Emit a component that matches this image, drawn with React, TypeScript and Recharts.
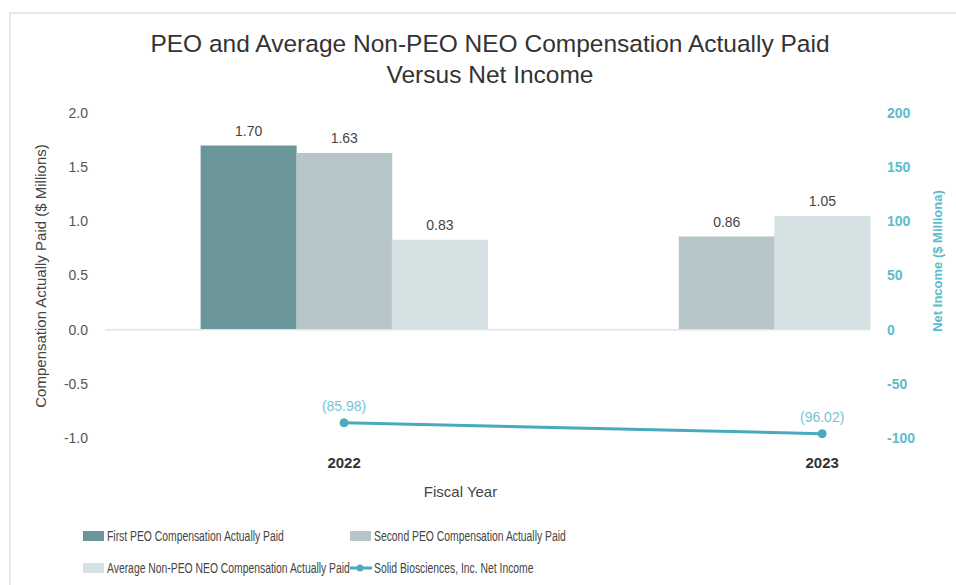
import React from 'react';
import { ComposedChart, Bar, Line, XAxis, YAxis, ReferenceLine, LabelList, Label } from 'recharts';

const years = ['2022', '2023'];
const firstPeoCap = [1.7, null];
const secondPeoCap = [1.63, 0.86];
const avgNonPeoCap = [0.83, 1.05];
const netIncome = [-85.98, -96.02];
const leftTicks = [-1, -0.5, 0, 0.5, 1, 1.5, 2];
const rightTicks = [-100, -50, 0, 50, 100, 150, 200];

const COLORS = {
  first: '#6a9599',
  second: '#b5c5c8',
  avg: '#d5e1e3',
  line: '#48aabc',
  lineLabel: '#78c3d1',
  rightAxis: '#5cbccc',
};

// slot layout along the x axis: each slot holds one bar (or nothing)
const slotPlan: { year?: number; series?: 'first' | 'second' | 'avg'; tick?: boolean }[] = [
  {},
  { year: 0, series: 'first' },
  { year: 0, series: 'second', tick: true },
  { year: 0, series: 'avg' },
  {},
  { year: 1, series: 'first' },
  { year: 1, series: 'second' },
  { year: 1, series: 'avg', tick: true },
];

const rows = slotPlan.map((s, k) => {
  const y = s.year ?? -1;
  return {
    key: 's' + k,
    label: s.tick ? years[y] : '',
    first: s.series === 'first' ? firstPeoCap[y] : null,
    second: s.series === 'second' ? secondPeoCap[y] : null,
    avg: s.series === 'avg' ? avgNonPeoCap[y] : null,
    net: s.tick ? netIncome[y] : null,
  };
});

const labelByKey: Record<string, string> = {};
rows.forEach((r) => (labelByKey[r.key] = r.label));

const FONT = '"Liberation Sans", Arial, sans-serif';

const fmtParen = (v: any) => {
  const n = Number(v);
  return n < 0 ? `(${Math.abs(n).toFixed(2)})` : n.toFixed(2);
};

const legendItems = [
  { name: 'First PEO Compensation Actually Paid', color: COLORS.first, type: 'rect', col: 0, row: 0 },
  { name: 'Second PEO Compensation Actually Paid', color: COLORS.second, type: 'rect', col: 1, row: 0 },
  { name: 'Average Non-PEO NEO Compensation Actually Paid', color: COLORS.avg, type: 'rect', col: 0, row: 1 },
  { name: 'Solid Biosciences, Inc. Net Income', color: COLORS.line, type: 'line', col: 1, row: 1 },
];

export default function App() {
  return (
    <div style={{ position: 'absolute', left: 0, top: 0, width: 956, height: 585, overflow: 'hidden', background: '#fff', fontFamily: FONT }}>
      <div style={{ position: 'absolute', left: 9, top: 12, width: 1000, height: 1000, border: '2px solid #e3eaec' }} />
      <div style={{ position: 'absolute', left: 0, top: 28, width: 980, textAlign: 'center', fontSize: 24.5, lineHeight: '31px', color: '#333' }}>
        PEO and Average Non-PEO NEO Compensation Actually Paid
        <br />
        Versus Net Income
      </div>
      <div style={{ position: 'absolute', left: 0, top: 0 }}>
        <ComposedChart width={956} height={585} data={rows} barCategoryGap={0} margin={{ top: 113, right: 0, bottom: 87, left: 0 }}>
          <XAxis
            dataKey="key"
            interval={0}
            height={60}
            axisLine={false}
            tickLine={false}
            tickSize={0}
            tickMargin={19}
            tickFormatter={(v) => labelByKey[v] ?? ''}
            tick={{ fill: '#333', fontSize: 15, fontWeight: 'bold', fontFamily: FONT }}
          >
            <Label value="Fiscal Year" position="insideBottom" offset={1} dx={-27} fill="#444" fontSize={15} fontFamily={FONT} />
          </XAxis>
          <YAxis
            yAxisId="left"
            width={105}
            domain={[-1, 2]}
            ticks={leftTicks}
            axisLine={false}
            tickLine={false}
            tickSize={0}
            tickMargin={17}
            tickFormatter={(v) => Number(v).toFixed(1)}
            tick={{ fill: '#555', fontSize: 14, fontFamily: FONT }}
          >
            <Label
              content={() => (
                <text transform="translate(46,276) rotate(-90)" textAnchor="middle" fill="#444" fontSize={15} fontFamily={FONT}>
                  Compensation Actually Paid ($ Millions)
                </text>
              )}
            />
          </YAxis>
          <YAxis
            yAxisId="right"
            orientation="right"
            width={86}
            domain={[-100, 200]}
            ticks={rightTicks}
            axisLine={false}
            tickLine={false}
            tickSize={0}
            tickMargin={17}
            tick={{ fill: COLORS.rightAxis, fontSize: 14, fontWeight: 'bold', fontFamily: FONT }}
          >
            <Label
              content={() => (
                <text transform="translate(942,261) rotate(-90)" textAnchor="middle" fill={COLORS.rightAxis} fontSize={13} fontWeight="bold" fontFamily={FONT}>
                  Net Income ($ Milliona)
                </text>
              )}
            />
          </YAxis>
          <ReferenceLine yAxisId="left" y={0} stroke="#e0e6e8" strokeWidth={1.5} />
          <Bar yAxisId="left" dataKey="first" stackId="cap" fill={COLORS.first} isAnimationActive={false}>
            <LabelList dataKey="first" position="top" offset={10} formatter={(v: any) => Number(v).toFixed(2)} fill="#444" fontSize={14} fontFamily={FONT} />
          </Bar>
          <Bar yAxisId="left" dataKey="second" stackId="cap" fill={COLORS.second} isAnimationActive={false}>
            <LabelList dataKey="second" position="top" offset={10} formatter={(v: any) => Number(v).toFixed(2)} fill="#444" fontSize={14} fontFamily={FONT} />
          </Bar>
          <Bar yAxisId="left" dataKey="avg" stackId="cap" fill={COLORS.avg} isAnimationActive={false}>
            <LabelList dataKey="avg" position="top" offset={10} formatter={(v: any) => Number(v).toFixed(2)} fill="#444" fontSize={14} fontFamily={FONT} />
          </Bar>
          <Line
            yAxisId="right"
            dataKey="net"
            stroke={COLORS.line}
            strokeWidth={3}
            connectNulls
            dot={{ r: 4, fill: COLORS.line, stroke: COLORS.line, strokeWidth: 1 }}
            isAnimationActive={false}
          >
            <LabelList dataKey="net" position="top" offset={12} formatter={fmtParen} fill={COLORS.lineLabel} fontSize={14} fontFamily={FONT} />
          </Line>
        </ComposedChart>
      </div>
      {legendItems.map((it) => (
        <div
          key={it.name}
          style={{
            position: 'absolute',
            left: it.col === 0 ? 83 : 350,
            top: it.row === 0 ? 527 : 559,
            height: 18,
            display: 'flex',
            alignItems: 'center',
            fontSize: 14,
            color: '#444',
            whiteSpace: 'nowrap',
          }}
        >
          {it.type === 'rect' ? (
            <span style={{ display: 'inline-block', width: 21, height: 10, background: it.color, marginRight: 3 }} />
          ) : (
            <svg width={22} height={10} style={{ marginRight: 2 }}>
              <line x1={0} y1={5} x2={22} y2={5} stroke={it.color} strokeWidth={3} />
              <circle cx={10} cy={5} r={3.5} fill={it.color} />
            </svg>
          )}
          <span style={{ display: 'inline-block', transform: 'scaleX(0.74)', transformOrigin: 'left center' }}>{it.name}</span>
        </div>
      ))}
    </div>
  );
}
